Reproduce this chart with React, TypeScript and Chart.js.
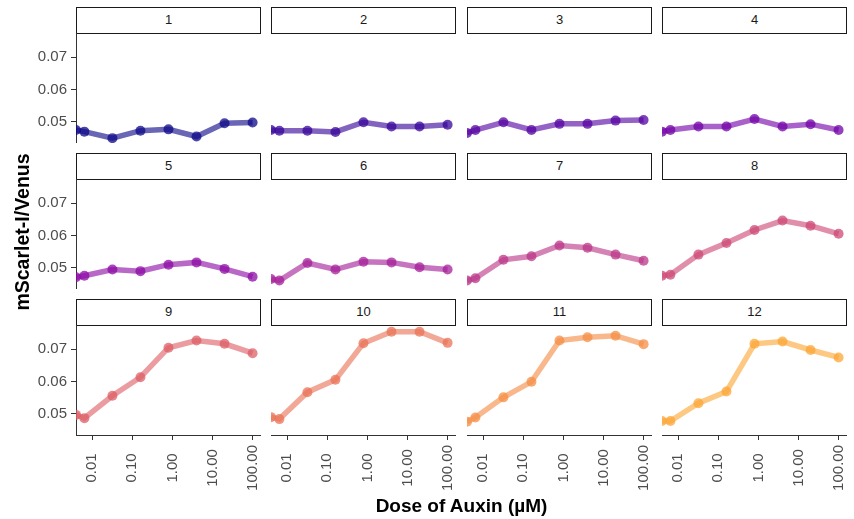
import React, { useEffect, useRef } from 'react';
import { Chart, registerables } from 'chart.js';

Chart.register(...registerables);

// ---------- data ----------
// dose 0 is drawn at the left panel edge (like ggplot's -Inf on a log axis)
const doses = [0, 0.0064, 0.032, 0.16, 0.8, 4, 20, 100];

const panelLabels = ['1', '2', '3', '4', '5', '6', '7', '8', '9', '10', '11', '12'];

const s1 = [0.0475, 0.047, 0.045, 0.0473, 0.0477, 0.0455, 0.0496, 0.0498];
const s2 = [0.0475, 0.0473, 0.0473, 0.0469, 0.0499, 0.0486, 0.0486, 0.0491];
const s3 = [0.0466, 0.0475, 0.0499, 0.0475, 0.0494, 0.0494, 0.0504, 0.0506];
const s4 = [0.047, 0.0475, 0.0486, 0.0486, 0.0509, 0.0486, 0.0493, 0.0475];
const s5 = [0.0471, 0.0476, 0.0495, 0.049, 0.051, 0.0517, 0.0497, 0.0473];
const s6 = [0.0466, 0.0461, 0.0515, 0.0495, 0.0519, 0.0517, 0.0502, 0.0495];
const s7 = [0.0461, 0.0468, 0.0525, 0.0536, 0.0569, 0.0562, 0.0541, 0.0522];
const s8 = [0.0476, 0.0479, 0.0541, 0.0577, 0.0617, 0.0646, 0.063, 0.0605];
const s9 = [0.0497, 0.0487, 0.0556, 0.0613, 0.0704, 0.0726, 0.0716, 0.0687];
const s10 = [0.049, 0.0484, 0.0567, 0.0605, 0.0718, 0.0753, 0.0753, 0.0719];
const s11 = [0.0476, 0.0489, 0.0551, 0.0599, 0.0726, 0.0736, 0.0741, 0.0715];
const s12 = [0.0478, 0.0478, 0.0533, 0.0569, 0.0716, 0.0723, 0.0697, 0.0674];
const seriesValues = [s1, s2, s3, s4, s5, s6, s7, s8, s9, s10, s11, s12];

const panelColors = [
  '#0D0887', '#37049A', '#5402A3', '#7201A8', '#8C0BA5', '#A51F99',
  '#BB3587', '#CE4976', '#DD5F66', '#EA7357', '#F58D46', '#FCA636',
];

const xTickValues = [0.01, 0.1, 1, 10, 100];
const xTickLabels = ['0.01', '0.10', '1.00', '10.00', '100.00'];
const yTickValues = [0.05, 0.06, 0.07];
const yTickLabels = ['0.05', '0.06', '0.07'];

const xTitle = 'Dose of Auxin (µM)';
const yTitle = 'mScarlet-I/Venus';

// ---------- scale ranges ----------
const X_MIN = Math.pow(10, -2.403);
const X_MAX = Math.pow(10, 2.21);
const Y_MIN = 0.0435;
const Y_MAX = 0.0774;

// ---------- layout ----------
const W = 854;
const H = 519;
const COL_LEFT = [76, 271, 467, 662];
const PANEL_W = 185;
const STRIP_TOP = [7, 153, 299];
const STRIP_H = 26;
const PANEL_H = 110;
const FONT = '"Liberation Sans", Arial, Helvetica, sans-serif';

function rgba(hex: string, a: number) {
  const n = parseInt(hex.slice(1), 16);
  return `rgba(${(n >> 16) & 255},${(n >> 8) & 255},${n & 255},${a})`;
}

function zeroPad(s: any) {
  s.paddingLeft = 0;
  s.paddingRight = 0;
  s.paddingTop = 0;
  s.paddingBottom = 0;
}

function Panel({ idx }: { idx: number }) {
  const ref = useRef<HTMLCanvasElement>(null);
  const row = Math.floor(idx / 4);
  const col = idx % 4;
  const showY = col === 0;
  const showX = row === 2;
  const leftExtra = showY ? COL_LEFT[0] : 0;
  const plotTop = STRIP_TOP[row] + STRIP_H;
  const bottomExtra = showX ? H - (plotTop + PANEL_H) : 0;
  const cw = PANEL_W + leftExtra;
  const ch = PANEL_H + bottomExtra;
  const left = COL_LEFT[col] - leftExtra;

  useEffect(() => {
    const color = panelColors[idx];
    const vals = seriesValues[idx];
    const data = doses.map((d, i) => ({ x: d === 0 ? X_MIN : d, y: vals[i] }));
    const chart = new Chart(ref.current as HTMLCanvasElement, {
      type: 'line',
      data: {
        datasets: [
          {
            data,
            borderColor: rgba(color, 0.62),
            borderWidth: 5.5,
            pointRadius: 5,
            pointBackgroundColor: rgba(color, 0.75),
            pointBorderWidth: 0,
            pointHoverRadius: 5,
            clip: 0,
            tension: 0,
          } as any,
        ],
      },
      options: {
        animation: false,
        responsive: false,
        maintainAspectRatio: false,
        events: [],
        layout: { padding: 0, autoPadding: false } as any,
        plugins: {
          legend: { display: false },
          tooltip: { enabled: false },
          title: { display: false },
        },
        scales: {
          x: {
            type: 'logarithmic',
            min: X_MIN,
            max: X_MAX,
            display: showX,
            afterBuildTicks: (s: any) => {
              s.ticks = xTickValues.map((v) => ({ value: v }));
            },
            afterFit: (s: any) => {
              s.height = bottomExtra;
              zeroPad(s);
            },
            grid: {
              drawOnChartArea: false,
              drawTicks: true,
              tickLength: 5,
              color: '#333333',
              lineWidth: 1,
            },
            border: { display: true, color: '#333333', width: 1 },
            ticks: {
              autoSkip: false,
              minRotation: 90,
              maxRotation: 90,
              padding: 5,
              color: '#4d4d4d',
              font: { family: FONT, size: 15 },
              callback: (v: any) => {
                const i = xTickValues.indexOf(Number(v));
                const lab = i >= 0 ? xTickLabels[i] : '';
                return lab + ' '.repeat(Math.max(0, 6 - lab.length));
              },
            },
          },
          y: {
            type: 'linear',
            min: Y_MIN,
            max: Y_MAX,
            display: showY,
            afterBuildTicks: (s: any) => {
              s.ticks = yTickValues.map((v) => ({ value: v }));
            },
            afterFit: (s: any) => {
              s.width = leftExtra;
              zeroPad(s);
            },
            grid: {
              drawOnChartArea: false,
              drawTicks: true,
              tickLength: 5,
              color: '#333333',
              lineWidth: 1,
            },
            border: { display: true, color: '#333333', width: 1 },
            ticks: {
              padding: 4,
              color: '#4d4d4d',
              font: { family: FONT, size: 15 },
              callback: (v: any) => {
                const i = yTickValues.indexOf(Number(v));
                return i >= 0 ? yTickLabels[i] : '';
              },
            },
          },
        },
      } as any,
    });
    return () => chart.destroy();
  }, []);

  return (
    <>
      <div
        style={{
          position: 'absolute',
          left: COL_LEFT[col],
          top: STRIP_TOP[row],
          width: PANEL_W,
          height: STRIP_H + 1,
          boxSizing: 'border-box',
          border: '1.3px solid #1a1a1a',
          background: '#fff',
          color: '#1a1a1a',
          fontFamily: FONT,
          fontSize: 13,
          lineHeight: `${STRIP_H - 2}px`,
          textAlign: 'center',
        }}
      >
        {panelLabels[idx]}
      </div>
      <canvas
        ref={ref}
        width={cw}
        height={ch}
        style={{ position: 'absolute', left, top: plotTop, width: cw, height: ch, display: 'block' }}
      />
    </>
  );
}

export default function App() {
  return (
    <div
      style={{
        position: 'fixed',
        left: 0,
        top: 0,
        width: W,
        height: H,
        background: '#ffffff',
        overflow: 'hidden',
      }}
    >
      {panelLabels.map((_, i) => (
        <Panel key={i} idx={i} />
      ))}
      <div
        style={{
          position: 'absolute',
          left: 21.5 - 150,
          top: 232 - 12,
          width: 300,
          height: 24,
          lineHeight: '24px',
          textAlign: 'center',
          transform: 'rotate(-90deg)',
          fontFamily: FONT,
          fontWeight: 'bold',
          fontSize: 19.5,
          color: '#000',
          whiteSpace: 'nowrap',
        }}
      >
        {yTitle}
      </div>
      <div
        style={{
          position: 'absolute',
          left: 461.5 - 200,
          top: 505.5 - 12,
          width: 400,
          height: 24,
          lineHeight: '24px',
          textAlign: 'center',
          fontFamily: FONT,
          fontWeight: 'bold',
          fontSize: 19,
          color: '#000',
          whiteSpace: 'nowrap',
        }}
      >
        {xTitle}
      </div>
    </div>
  );
}
